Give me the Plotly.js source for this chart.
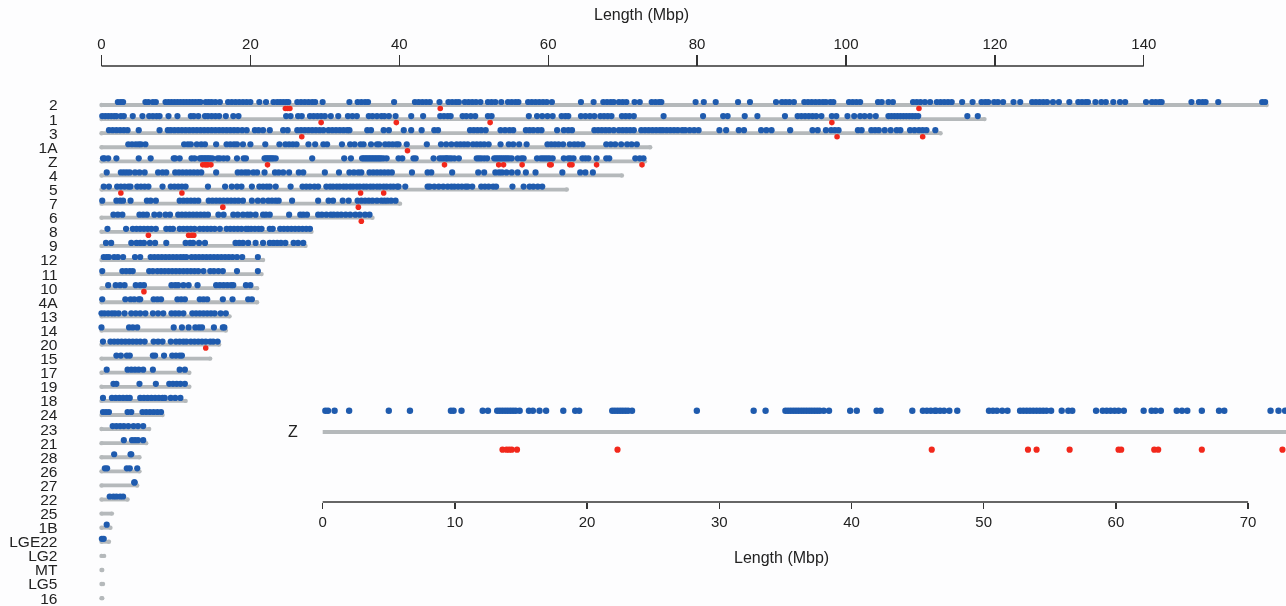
<!DOCTYPE html>
<html><head><meta charset="utf-8">
<script src="https://cdn.plot.ly/plotly-3.0.1.min.js"></script>
<style>html,body{margin:0;padding:0;background:#fdfdfe;overflow:hidden}#c{width:1286px;height:606px;filter:blur(0.3px)}</style>
</head><body><div id="c"></div>
<script>
// Chromosome names, top to bottom
const chromosomes = ["2","1","3","1A","Z","4","5","7","6","8","9","12","11","10","4A","13","14","20","15","17","19","18","24","23","21","28","26","27","22","25","1B","LGE22","LG2","MT","LG5","16"];
// Chromosome lengths (Mbp)
const lengths = [156.5,118.6,112.7,73.7,73,69.9,62.5,40.1,36.4,28.2,27.4,21.7,21.5,20.9,20.9,17.2,16.7,15.8,14.6,11.8,11.8,11.3,8.2,6.4,6,5.1,5.1,4.8,3.5,1.4,1.2,1,0.35,0.1,0.2,0.1];
// Blue markers (Mbp)
const b2 = [2.2,2.6,2.9,5.9,6.3,6.9,7.3,8.6,9,9.4,9.8,10.2,10.6,11,11.4,11.8,12.2,12.6,13,13.3,14,14.4,14.8,15.3,15.9,17,17.5,18,18.5,19,19.5,20,21.2,22.1,23.1,23.6,24,24.4,24.8,25.1,26.3,26.8,27.3,27.8,28.3,28.7,29.7,33.3,34.4,34.9,35.4,35.8,39.3,42.1,42.6,43.1,43.6,44.1,45.4,46.6,47.1,47.6,48,48.8,49.3,49.8,50.3,50.9,51.9,52.4,52.9,53.7,54.6,55.1,55.6,56,57.3,57.8,58.3,58.8,59.3,59.8,60.5,64.4,66.1,67.4,67.9,68.4,68.8,69.5,70,70.5,71.6,72.3,73.9,74.4,74.9,75.2,79.8,80.9,82.5,85.5,87.1,90.6,91.4,91.9,92.4,93,94.4,94.9,95.4,95.9,96.4,96.9,97.3,97.9,98.3,100.4,100.9,101.4,101.9,104.3,104.8,105.7,106.3,109,109.5,110,110.6,111.3,112.2,112.7,113.2,113.7,114.2,115.6,117,118.2,118.7,119.1,119.9,120.4,121.1,122.5,123.4,125,125.5,126,126.5,127,127.8,128.6,130,131.2,131.7,132.2,132.5,133.5,134.3,134.9,135.9,136.8,137.5,140.3,141.1,141.6,142.1,142.4,146.4,147.4,147.9,148.3,150,155.9,156.3];
const b1 = [0.1,0.5,0.9,1.3,1.7,2,2.6,3,4.2,5.5,6.4,6.9,7.4,7.8,9,10.2,12,12.4,13,13.9,14.3,14.8,15.3,15.8,16.7,17.7,18.4,24.8,25.4,26.4,26.9,28,28.5,29,29.5,30,30.8,31.8,33.1,33.7,34.3,35.9,36.4,37,37.6,38,38.6,39.5,41.6,43.2,45.5,46,46.5,46.9,48.5,49,49.6,50.2,51.9,52.4,57.4,58.5,59.2,59.9,60.6,61.8,62.3,62.7,64.4,65,65.6,66.2,67,67.5,68,68.5,69.9,70.4,70.9,71.5,75.5,80.8,83.5,84.1,86.4,88.1,91.8,93.5,94,94.5,95,95.5,96,96.7,98.1,98.7,100.2,101.1,101.9,102.5,103.2,104,105.7,106.1,106.5,106.9,107.3,107.7,108.1,108.5,108.9,109.3,109.7,116.3,117.7];
const b3 = [1,1.5,2,2.5,3,3.5,5,7.8,8.9,9.3,9.8,10.3,10.8,11.3,11.8,12.3,12.8,13.3,13.8,14.3,14.8,15.3,15.8,16.3,16.8,17.3,17.8,18.3,18.9,19.5,20.6,21.1,21.7,22.6,24.4,25,26.3,26.8,27.3,27.8,28.3,28.8,29.3,29.8,30.5,31,31.5,32,32.5,33,33.3,35.7,36.2,37.9,38.6,40.6,41.6,43,44.7,45.2,49.5,50,50.5,51,51.6,53.6,54.2,54.8,55.3,57,57.5,58,58.6,59.1,61.2,62.1,62.7,63.2,66.2,66.7,67.2,67.7,68.2,68.8,69.5,70,70.5,71,71.5,72.5,73,73.5,74,74.5,75,75.4,75.9,76.4,76.9,77.4,78,78.4,79,79.6,80.2,83,83.9,85.6,86.3,88.6,89.3,90,92.5,95.5,96.2,97.3,98,98.5,99,101.6,102.1,103.4,103.9,104.4,105.2,106,106.8,107.3,108.6,109.2,109.8,110.3,110.8,112];
const b1A = [3.6,4.1,4.6,5,5.3,5.9,11.1,11.6,12,12.8,13.4,13.9,15.4,16.8,17.3,17.8,18.2,19,20,22,23.9,24.7,25.2,25.7,26.2,27.8,28.7,29.8,30.3,32.3,33.4,34,34.8,35.2,36.2,37,37.3,38.1,38.6,39.1,39.6,39.9,41,43.7,45.6,46.3,47,47.7,48.2,48.7,49.2,49.9,50.4,50.9,51.4,52,53.6,54.7,55.3,56.1,57.1,59.9,60.4,60.9,61.4,62,62.9,63.5,64,64.6,67.8,68.4,69,69.8,70.6,71.2,71.9];
const bZ = [0.2,0.4,0.9,2,5,6.6,9.7,9.9,10.5,12.1,12.5,13.2,13.4,13.6,13.8,14,14.2,14.4,14.6,14.9,15.6,15.9,16.4,16.9,18.2,19.1,19.4,21.9,22.1,22.3,22.5,22.7,22.9,23.1,23.4,28.3,32.6,33.5,35,35.2,35.4,35.6,35.8,36,36.2,36.4,36.6,36.8,37,37.2,37.4,37.6,37.9,38.3,39.9,40.4,41.9,42.2,44.6,45.4,45.7,46,46.3,46.4,46.7,47,47.4,48,50.4,50.7,51,51.4,51.8,52.75,53,53.25,53.5,53.75,54,54.25,54.5,54.75,55.1,55.9,56.4,56.7,58.5,59,59.3,59.6,59.9,60.2,60.6,62.1,62.7,63,63.4,64.6,65,65.4,66.5,67.8,68.2,71.7,72.3,72.8];
const b4 = [0.7,2.6,3,3.4,3.8,4.5,5.1,5.8,7.6,8.2,8.7,9.9,10.4,10.9,11.4,11.9,12.4,12.9,13.4,15.4,18.3,18.8,19.3,19.7,20.4,20.9,21.9,23.3,23.8,24.4,25.2,26.5,27.1,30,31.9,33.3,33.9,34.5,34.9,36,36.5,37,37.5,38,38.5,39,41.7,43.8,44.3,47.1,50.6,51.4,52.9,53.4,53.8,54.4,55.1,55.9,57,58.3,61.9,64.3,65,66];
const b5 = [0.3,1,2.1,2.6,3.1,3.6,3.9,4.8,5.3,5.8,6.3,8.2,9.3,9.8,10.3,10.8,11.3,14.3,16.6,17.5,18.2,18.8,20.2,21.2,21.7,22.2,22.6,23.4,25.4,27,27.5,28,28.6,29.1,30.2,30.7,31.1,31.6,32,32.5,32.9,33.4,33.8,34.3,34.7,35.2,35.6,36.1,36.5,37,37.4,37.9,38.3,38.8,39.2,39.7,39.9,40.8,43.8,44.1,44.7,45.3,45.9,46.5,47,47.4,47.9,48.4,48.9,49.2,49.8,51,51.5,52,52.6,53,55.2,56.7,57.5,58,58.6,59.2];
const b7 = [0.1,2,2.5,2.9,3.9,6.1,6.6,7.3,10.5,11,11.5,12,12.5,13,14.4,14.9,15.4,15.9,16.4,16.9,17.4,17.9,18.4,19,20.2,21,21.7,22.4,22.9,23.4,23.8,25.6,29.1,30.5,31.1,32.4,33.2,34.4,34.9,35.4,35.9,36.4,37,37.6,38,38.4,38.9,39.5];
const b6 = [1.6,2.2,2.8,5.1,5.6,6.1,7.1,7.8,8.6,9.2,10.3,10.8,11.3,11.8,12.3,12.8,13.3,13.8,14.3,15.7,16.4,17.7,18.3,19,19.6,20,20.7,21.7,22.1,22.6,25.2,26.7,27.1,27.6,29.1,29.6,30.2,30.8,31.2,31.7,32.2,32.8,33.4,34.1,34.7,35.4,36];
const b8 = [0.8,3.3,4.2,4.7,5.2,5.7,6.2,6.7,7.3,8.7,9.2,9.6,10.5,11,11.5,12,12.5,13.2,13.7,14.2,14.7,15.2,15.9,16.8,17.3,17.8,18.3,18.8,19.4,19.7,20.1,20.6,21.1,21.5,22.6,23,24,24.5,25,25.5,26,26.5,27,27.5,28];
const b9 = [0.6,1.3,4,4.7,5.2,5.7,6.5,7.2,8.7,11.3,11.9,12.3,13.1,13.9,18,18.5,19,19.7,20.7,21.7,22.6,23.1,23.6,24.1,24.7,25.8,26.4,27.1];
const b12 = [0.3,0.7,1,1.7,2.2,2.9,4.5,5.2,6.6,7.1,7.6,8.1,8.6,9.1,9.6,10.1,10.6,11,11.4,12.1,12.6,13.1,13.6,14.1,14.6,15.1,15.6,16.1,16.6,17.1,17.6,18.2,18.9,21];
const b11 = [0.1,2.8,3.3,3.8,4.2,6.4,6.9,7.5,8,8.5,9,9.5,10,10.5,11,11.5,12,12.5,13,13.7,14.6,15.1,15.7,16.3,18.2,21];
const b10 = [0.9,1.9,2.5,3.1,4.6,5.2,5.7,9.4,9.9,10.3,11,11.7,12.9,15.4,15.9,16.4,16.9,17.4,17.7,19.4,20];
const b4A = [0.1,3.2,3.9,4.4,5,5.2,7,7.5,8,10.2,10.7,11.2,13.2,13.7,14.2,16.3,17.6,19.7,20.2];
const b13 = [0,0.4,0.9,1.4,1.8,2.3,3.1,4,4.6,5.2,5.9,6.9,7.6,8.3,9.4,9.9,10.4,11,12.2,12.7,13.2,13.7,14.2,14.7,15.2,16,16.7];
const b14 = [0,3.7,4.2,4.8,9.7,10.8,11.7,12.6,13.1,13.5,15.1,16.3,16.5];
const b20 = [0.2,1.2,1.7,2.2,2.7,3.2,3.7,4.2,4.7,5.2,5.8,7,7.6,8.2,9.3,10,10.5,11,11.4,12,12.5,13,13.5,14,14.6,15,15.6];
const b15 = [2,2.6,3.4,3.8,6.9,7.2,8.4,9.5,10,10.5,10.8];
const b17 = [0.7,3.5,4,4.5,5,5.6,6.9,10.5,11.2];
const b19 = [1.6,2,5.1,7.3,9.1,9.6,10.1,10.6,11.2];
const b18 = [0.2,1.4,1.9,2.4,2.9,3.4,3.8,5.2,5.7,6.2,6.7,7.2,7.7,8.2,8.5,9.3,9.9,10.6];
const b24 = [0.2,0.6,1,3.5,4,5.5,6,6.5,7,7.5,8];
const b23 = [1.5,2,2.5,3,3.6,4.3,4.9,5.6];
const b21 = [3,4.1,4.5,4.9,5.6];
const b28 = [1.7,3.9,4];
const b26 = [0.45,0.75,3.4,3.8,4.8];
const b27 = [4.4,4.45];
const b22 = [1.1,1.6,2,2.5,2.9];
const b1B = [0.7];
const bLGE22 = [0.05,0.3];
const blueByChromosome = {"2":b2,"1":b1,"3":b3,"1A":b1A,"Z":bZ,"4":b4,"5":b5,"7":b7,"6":b6,"8":b8,"9":b9,"12":b12,"11":b11,"10":b10,"4A":b4A,"13":b13,"14":b14,"20":b20,"15":b15,"17":b17,"19":b19,"18":b18,"24":b24,"23":b23,"21":b21,"28":b28,"26":b26,"27":b27,"22":b22,"1B":b1B,"LGE22":bLGE22};
// Red markers (Mbp)
const r2 = [24.7,25,25.3,45.5,109.8];
const r1 = [29.5,39.6,52.2,98.1];
const r3 = [26.9,98.8,110.3];
const r1A = [41.1];
const rZ = [13.6,13.9,14.1,14.3,14.7,22.3,46.07,53.35,54,56.5,60.2,60.4,62.9,63.2,66.5,72.6];
const r5 = [2.6,10.8,34.8,37.9];
const r7 = [16.3,34.5];
const r6 = [34.9];
const r8 = [6.3,11.7,12.1,12.4];
const r10 = [5.7];
const r20 = [14];
const redByChromosome = {"2":r2,"1":r1,"3":r3,"1A":r1A,"Z":rZ,"5":r5,"7":r7,"6":r6,"8":r8,"10":r10,"20":r20};
// Axis ticks
const topTicks = [0,20,40,60,80,100,120,140];
const insetTicks = [0,10,20,30,40,50,60,70];

const W=1286,H=606, rowStep=14.09, row0=105;
const rowOfPx = p => (p-row0)/rowStep;
const blue='#1f5bae', red='#f2281c', grey='#b5b9bb', ink='#222';
const font={family:'"Liberation Sans",Arial,sans-serif',size:15,color:ink};
const titleFont={...font,size:16};
const rows = chromosomes.map((_,i)=>i);
const traces=[];
// Grey chromosome bars
const bx=[],by=[];
lengths.forEach((L,i)=>{bx.push(0,L,null);by.push(i,i,null);});
traces.push({type:'scatter',mode:'lines+markers',x:bx,y:by,line:{color:grey,width:3.8},marker:{color:grey,size:4.4},hoverinfo:'skip',showlegend:false});
// Blue and red markers on the main panel
const mx=[],my=[],rx=[],ry=[];
chromosomes.forEach((c,i)=>{
  (blueByChromosome[c]||[]).forEach(v=>{mx.push(v);my.push(i-3/rowStep);});
  (redByChromosome[c]||[]).forEach(v=>{rx.push(v);ry.push(i+3.5/rowStep);});
});
traces.push({type:'scatter',mode:'markers',x:mx,y:my,marker:{color:blue,size:6.2},showlegend:false,cliponaxis:false});
traces.push({type:'scatter',mode:'markers',x:rx,y:ry,marker:{color:red,size:5.6},showlegend:false,cliponaxis:false});
// Inset: chromosome Z enlarged
const zLen=lengths[chromosomes.indexOf('Z')];
traces.push({type:'scatter',mode:'lines',xaxis:'x2',x:[0,zLen],y:[rowOfPx(432),rowOfPx(432)],line:{color:grey,width:3.8},hoverinfo:'skip',showlegend:false});
traces.push({type:'scatter',mode:'markers',xaxis:'x2',x:bZ,y:bZ.map(()=>rowOfPx(410.7)),marker:{color:blue,size:6.4},showlegend:false,cliponaxis:false});
traces.push({type:'scatter',mode:'markers',xaxis:'x2',x:rZ,y:rZ.map(()=>rowOfPx(449.7)),marker:{color:red,size:6.2},showlegend:false,cliponaxis:false});

const px0=101.5, mbp=7.445, ipx0=322.7, impb=13.22;
const layout={
  width:W,height:H,margin:{l:0,r:0,t:0,b:0},paper_bgcolor:'#fdfdfe',plot_bgcolor:'rgba(0,0,0,0)',showlegend:false,font,
  xaxis:{domain:[0,1],range:[-px0/mbp,(W-px0)/mbp],side:'top',anchor:'free',position:1-66/H,showgrid:false,zeroline:false,showline:false,
    tickmode:'array',tickvals:topTicks,ticktext:topTicks.map(String),ticks:'outside',ticklen:11,tickwidth:1.2,tickcolor:'#333',tickfont:font},
  xaxis2:{domain:[0,1],range:[-ipx0/impb,(W-ipx0)/impb],side:'bottom',anchor:'free',position:1-502/H,overlaying:'x',showgrid:false,zeroline:false,showline:false,
    tickmode:'array',tickvals:insetTicks,ticktext:insetTicks.map(String),ticks:'outside',ticklen:6,tickwidth:1.2,tickcolor:'#333',tickfont:font},
  yaxis:{domain:[0,1],range:[rowOfPx(H),rowOfPx(0)],anchor:'free',position:57.5/W,side:'left',showgrid:false,zeroline:false,showline:false,
    tickmode:'array',tickvals:rows,ticktext:chromosomes,ticks:'',ticklabeloverflow:'allow',tickfont:{...font,size:15.5}},
  shapes:[
    {type:'line',xref:'x',yref:'y',x0:0,x1:140,y0:rowOfPx(66),y1:rowOfPx(66),line:{color:'#333',width:1.3}},
    {type:'line',xref:'x2',yref:'y',x0:0,x1:70,y0:rowOfPx(502),y1:rowOfPx(502),line:{color:'#333',width:1.3}}
  ],
  annotations:[
    {text:'Length (Mbp)',xref:'x',yref:'y',x:(641-px0)/mbp,y:rowOfPx(14),showarrow:false,font:titleFont},
    {text:'Z',xref:'x2',yref:'y',x:-30/impb,y:rowOfPx(431),showarrow:false,font:{...font,size:16}},
    {text:'Length (Mbp)',xref:'x2',yref:'y',x:(781-ipx0)/impb,y:rowOfPx(557.5),showarrow:false,font:titleFont}
  ]
};
Plotly.newPlot('c',traces,layout,{displayModeBar:false,staticPlot:true});
</script></body></html>
